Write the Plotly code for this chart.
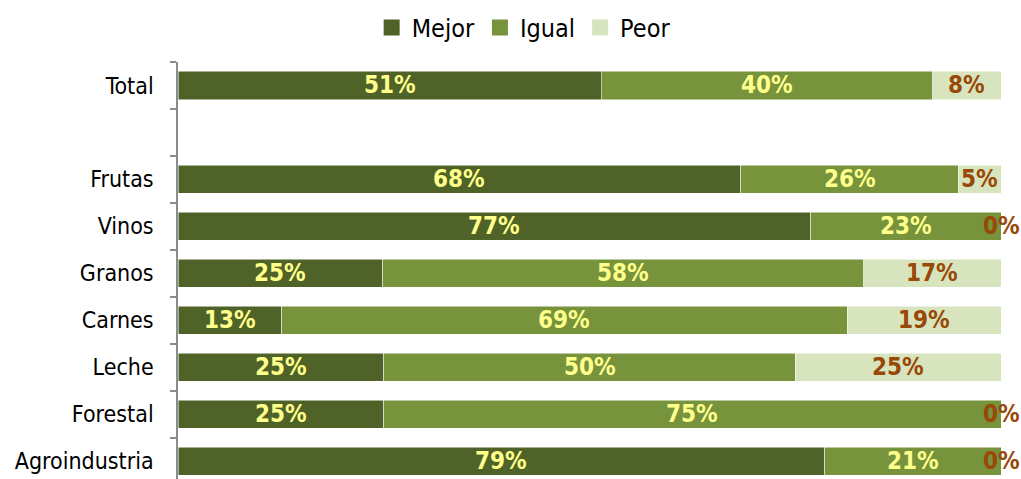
import plotly.graph_objects as go

categories = ["Total", " ", "Frutas", "Vinos", "Granos", "Carnes", "Leche", "Forestal", "Agroindustria"]
mejor = [51.4, None, 68.4, 76.9, 24.9, 12.6, 25.0, 25.0, 78.6]
igual = [40.3, None, 26.4, 23.1, 58.4, 68.7, 50.0, 75.0, 21.4]
peor = [8.3, None, 5.2, 0.0, 16.7, 18.7, 25.0, 0.0, 0.0]
series_names = ["Mejor", "Igual", "Peor"]
colors = ["#4F6228", "#77933C", "#D7E4BD"]
label_colors = ["#FFFF8C", "#FFFF8C", "#984807"]

FONT = "DejaVu Sans Condensed, Liberation Sans Narrow, Arial Narrow, sans-serif"

fig = go.Figure()
series = [mejor, igual, peor]
for name, vals, col in zip(series_names, series, colors):
    fig.add_trace(go.Bar(
        y=categories, x=vals, name=name, orientation="h",
        marker=dict(color=col, line=dict(color="white", width=0.5)),
        width=0.6, hoverinfo="x+name", showlegend=False,
    ))
    # legend entry with a larger square symbol
    fig.add_trace(go.Scatter(
        x=[None], y=[None], mode="markers", name=name,
        marker=dict(symbol="square", size=16, color=col), showlegend=True,
    ))

# value labels centred in each segment
for i, cat in enumerate(categories):
    start = 0.0
    for vals, lc in zip(series, label_colors):
        v = vals[i]
        if v is None:
            continue
        fig.add_annotation(
            x=start + v / 2, y=cat, text=f"{round(v):.0f}%", showarrow=False,
            font=dict(family=FONT, size=24, color=lc, weight="bold"),
            xref="x", yref="y",
        )
        start += v

fig.update_layout(
    width=1021, height=479,
    margin=dict(l=178, r=20, t=62, b=0, autoexpand=False),
    paper_bgcolor="white", plot_bgcolor="white",
    barmode="stack",
    showlegend=True,
    legend=dict(
        orientation="h", x=0.42, xanchor="center", xref="paper",
        y=0.942, yanchor="middle", yref="container",
        font=dict(family=FONT, size=25, color="black"),
        traceorder="normal", itemwidth=30,
    ),
    xaxis=dict(range=[0, 100], showgrid=False, zeroline=False, showticklabels=False,
               ticks="", showline=False, fixedrange=True, automargin=False),
    yaxis=dict(
        type="category", categoryorder="array", categoryarray=categories,
        range=[8.38, -0.5], showgrid=False, zeroline=False, automargin=False,
        showline=True, linecolor="#8C8C8C", linewidth=1.5,
        ticks="outside", tickson="boundaries", ticklen=6, tickcolor="#8C8C8C", tickwidth=1.5,
        tickfont=dict(family=FONT, size=23, color="black"),
        ticklabelstandoff=18,
    ),
)
fig.write_html(
    "out.html",
    config={"displayModeBar": False},
    post_script="document.body.style.margin='0';document.body.style.overflow='hidden';",
)
